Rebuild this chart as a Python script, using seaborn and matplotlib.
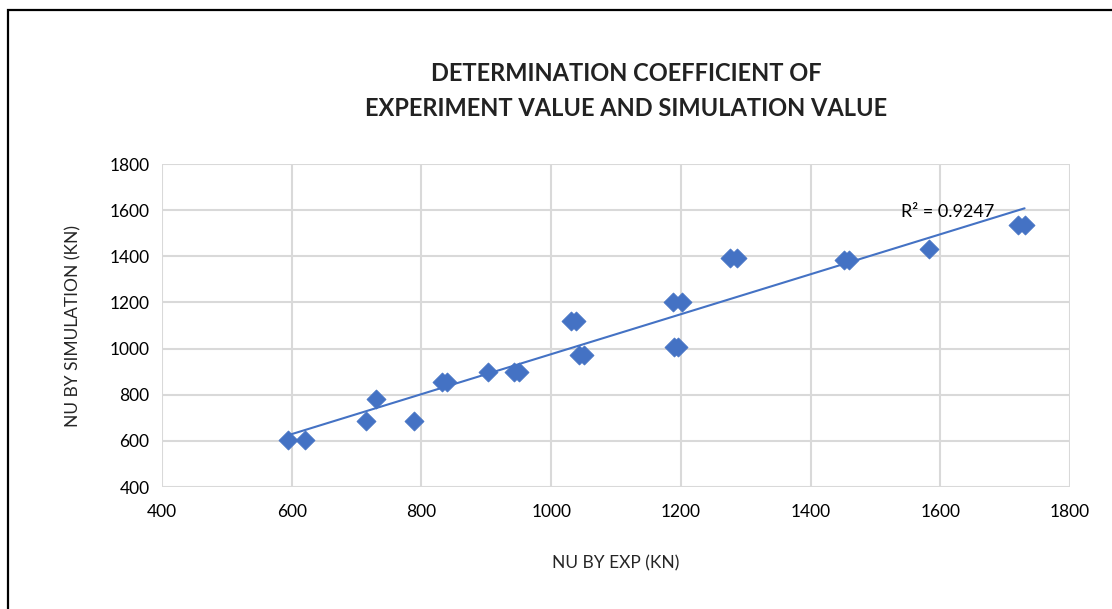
import numpy as np
import pandas as pd
import matplotlib.pyplot as plt
import seaborn as sns
from matplotlib.patches import Rectangle

# valores
nu_exp = [594, 620, 714, 730, 789, 832, 840, 903, 942, 950,
          1030, 1038, 1043, 1050, 1188, 1202, 1190, 1196,
          1276, 1286, 1452, 1460, 1583, 1720, 1730]
nu_sim = [603, 603, 688, 782, 688, 857, 857, 900, 900, 900,
          1120, 1120, 973, 973, 1200, 1200, 1005, 1005,
          1393, 1393, 1386, 1386, 1430, 1537, 1537]
r2_text = "R² = 0.9247"

df = pd.DataFrame({"exp": nu_exp, "sim": nu_sim})

sns.set_theme(style="white")
plt.rcParams["font.family"] = ["Lato", "DejaVu Sans"]

azul = "#4472C4"
fig = plt.figure(figsize=(11.12, 6.09), dpi=100)
ax = fig.add_axes([0.1457, 0.2003, 0.8165, 0.5304])

sns.regplot(data=df, x="exp", y="sim", scatter=False, ci=None, ax=ax,
            line_kws={"color": azul, "linewidth": 1.5})
sns.scatterplot(data=df, x="exp", y="sim", marker="D", s=95, color=azul,
                edgecolor=azul, linewidth=0.5, ax=ax, zorder=3)

ax.set_xlim(400, 1800)
ax.set_ylim(400, 1800)
ax.set_xticks(range(400, 1801, 200))
ax.set_yticks(range(400, 1801, 200))
ax.grid(True, color="#D9D9D9", linewidth=1.5)
ax.set_axisbelow(True)
for s in ax.spines.values():
    s.set_visible(False)
ax.tick_params(axis="x", length=0, labelsize=12.5, colors="#000000", pad=12)
ax.tick_params(axis="y", length=0, labelsize=12.5, colors="#000000", pad=9)

ax.set_xlabel("NU BY EXP (KN)", fontsize=12.5, labelpad=26)
ax.set_ylabel("NU BY SIMULATION (KN)", fontsize=12.5, labelpad=20)

ax.text(1540, 1592, r2_text, fontsize=13, color="#000000", va="center")

fig.text(0.563, 0.88, "DETERMINATION COEFFICIENT OF", ha="center", va="center",
         fontsize=17, fontweight="bold", color="#222222")
fig.text(0.563, 0.822, "EXPERIMENT VALUE AND SIMULATION VALUE", ha="center",
         va="center", fontsize=17, fontweight="bold", color="#222222")

# marco negro
fig.patches.append(Rectangle((8 / 1112, -0.05), 1.1, 1 - 10 / 609 + 0.05,
                             transform=fig.transFigure, fill=False,
                             edgecolor="#000000", linewidth=1.6))

plt.savefig("out.png", dpi=100)
